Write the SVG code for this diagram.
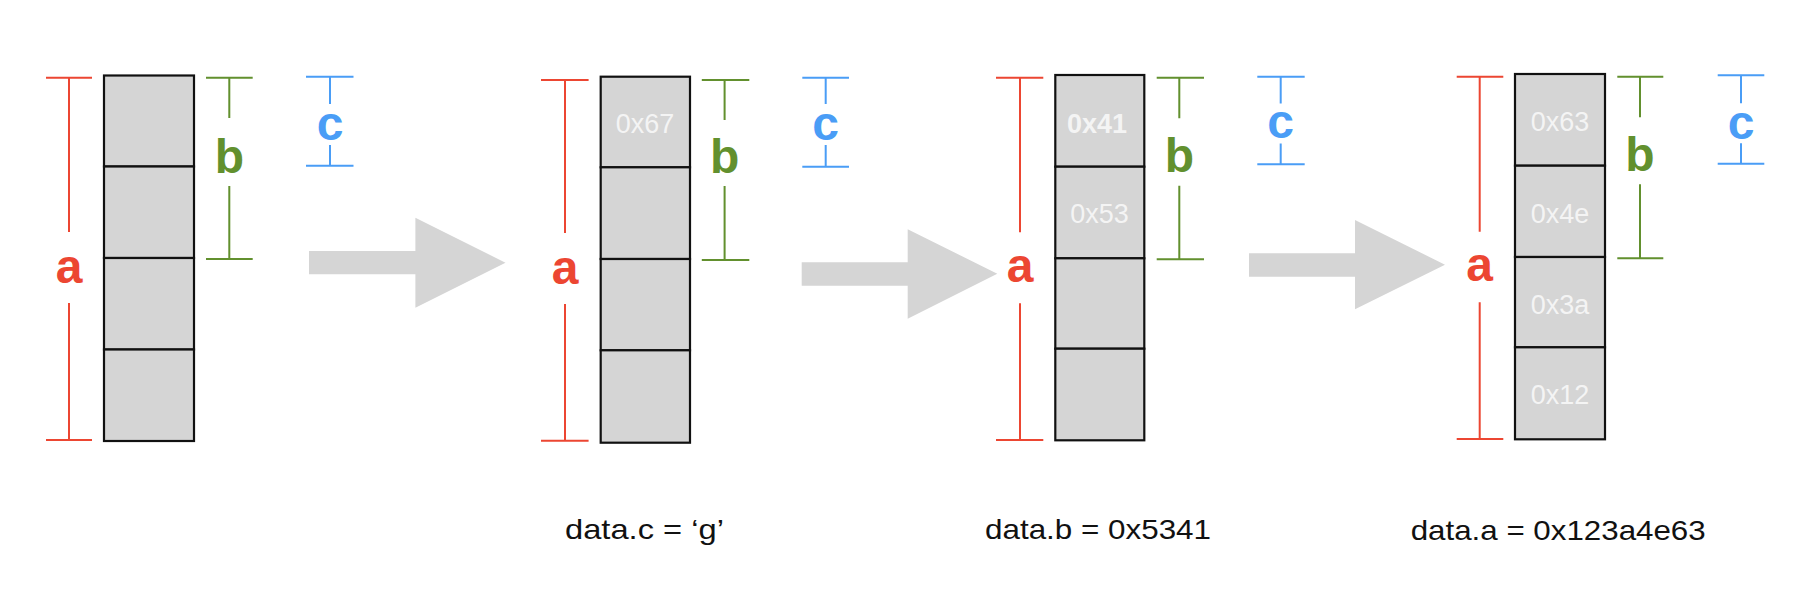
<svg xmlns="http://www.w3.org/2000/svg" width="1808" height="590" viewBox="0 0 1808 590">
<style>
.cell{fill:#d5d5d5;stroke:#111;stroke-width:2.2}
.red{stroke:#ec4632;stroke-width:2;fill:none}
.grn{stroke:#62902e;stroke-width:2;fill:none}
.blu{stroke:#4a9df6;stroke-width:2;fill:none}
.lbl{font-family:"Liberation Sans",Arial,sans-serif;font-weight:bold;font-size:48px;text-anchor:middle}
.ra{fill:#ec4632}.gb{fill:#62902e}.bc{fill:#4a9df6}
.val{font-family:"Liberation Sans",Arial,sans-serif;font-size:27px;fill:#f4f4f4;text-anchor:middle}
.cap{font-family:"Liberation Sans",Arial,sans-serif;font-size:28px;fill:#111}
.arrow{fill:#d5d5d5}
</style>
<rect width="1808" height="590" fill="#fff"/>

<g id="col1">
<rect class="cell" x="104" y="75.5" width="90" height="91"/>
<rect class="cell" x="104" y="166.5" width="90" height="91.5"/>
<rect class="cell" x="104" y="258" width="90" height="91.5"/>
<rect class="cell" x="104" y="349.5" width="90" height="91.5"/>
<path class="red" d="M46 77.7H92M46 440H92M69 77.7V232M69 303V440"/>
<text class="lbl ra" x="69" y="283">a</text>
<path class="grn" d="M206 77.7H252.7M206 259H252.7M229.3 77.7V118M229.3 186V259"/>
<text class="lbl gb" x="229.3" y="172.7">b</text>
<path class="blu" d="M306 76.7H353.5M306 165.7H353.5M330 76.7V104M330 145V165.7"/>
<text class="lbl bc" x="330" y="140">c</text>
</g>

<g id="col2">
<rect class="cell" x="600.7" y="76.7" width="89.3" height="90.6"/>
<rect class="cell" x="600.7" y="167.3" width="89.3" height="91.7"/>
<rect class="cell" x="600.7" y="259" width="89.3" height="91.3"/>
<rect class="cell" x="600.7" y="350.3" width="89.3" height="92.4"/>
<text class="val" x="645" y="132.7">0x67</text>
<path class="red" d="M541 80H588.6M541 440.7H588.6M565 80V233M565 304V440.7"/>
<text class="lbl ra" x="565" y="284">a</text>
<path class="grn" d="M701.8 80H749.3M701.8 260H749.3M724.6 80V120M724.6 186V260"/>
<text class="lbl gb" x="724.6" y="173">b</text>
<path class="blu" d="M802.3 77.7H849M802.3 166.7H849M825.7 77.7V104M825.7 145V166.7"/>
<text class="lbl bc" x="825.7" y="140">c</text>
</g>

<g id="col3">
<rect class="cell" x="1055.3" y="75" width="89" height="91.7"/>
<rect class="cell" x="1055.3" y="166.7" width="89" height="91.6"/>
<rect class="cell" x="1055.3" y="258.3" width="89" height="90.4"/>
<rect class="cell" x="1055.3" y="348.7" width="89" height="91.6"/>
<text class="val" x="1097" y="132.7" font-weight="bold">0x41</text>
<text class="val" x="1099.5" y="223.3">0x53</text>
<path class="red" d="M996 77.7H1043.3M996 440H1043.3M1020 77.7V232.3M1020 303.3V440"/>
<text class="lbl ra" x="1020" y="281.7">a</text>
<path class="grn" d="M1156.7 77.7H1204M1156.7 259.3H1204M1179.3 77.7V118.3M1179.3 185.7V259.3"/>
<text class="lbl gb" x="1179.3" y="172">b</text>
<path class="blu" d="M1257.3 76.7H1304.7M1257.3 164.3H1304.7M1280.7 76.7V103.5M1280.7 143.5V164.3"/>
<text class="lbl bc" x="1280.7" y="138.3">c</text>
</g>

<g id="col4">
<rect class="cell" x="1515" y="74" width="90" height="91.7"/>
<rect class="cell" x="1515" y="165.7" width="90" height="91.3"/>
<rect class="cell" x="1515" y="257" width="90" height="90.3"/>
<rect class="cell" x="1515" y="347.3" width="90" height="92"/>
<text class="val" x="1560" y="131">0x63</text>
<text class="val" x="1560" y="222.7">0x4e</text>
<text class="val" x="1560" y="314.3">0x3a</text>
<text class="val" x="1560" y="404">0x12</text>
<path class="red" d="M1456.7 76.7H1503.3M1456.7 439H1503.3M1479.7 76.7V231.7M1479.7 302.3V439"/>
<text class="lbl ra" x="1479.7" y="280.7">a</text>
<path class="grn" d="M1617.3 76.7H1663.3M1617.3 258.3H1663.3M1640 76.7V117.3M1640 184.3V258.3"/>
<text class="lbl gb" x="1640" y="171">b</text>
<path class="blu" d="M1717.7 75.3H1764.3M1717.7 163.7H1764.3M1741 75.3V103.3M1741 143.3V163.7"/>
<text class="lbl bc" x="1741" y="139">c</text>
</g>

<g id="connectors">
<polygon class="arrow" points="309,251 415.4,251 415.4,217.7 505.5,262.7 415.4,307.7 415.4,274.3 309,274.3"/>
<polygon class="arrow" points="801.7,262.3 907.7,262.3 907.7,229.3 997.3,273.7 907.7,318.7 907.7,285.7 801.7,285.7"/>
<polygon class="arrow" points="1249,253.3 1355,253.3 1355,220 1445,264.7 1355,309.3 1355,276.7 1249,276.7"/>
</g>

<g id="captions">
<text class="cap" x="565" y="539.3" textLength="159" lengthAdjust="spacingAndGlyphs">data.c = ‘g’</text>
<text class="cap" x="985" y="538.5" textLength="226" lengthAdjust="spacingAndGlyphs">data.b = 0x5341</text>
<text class="cap" x="1410.7" y="540" textLength="295" lengthAdjust="spacingAndGlyphs">data.a = 0x123a4e63</text>
</g>
</svg>
